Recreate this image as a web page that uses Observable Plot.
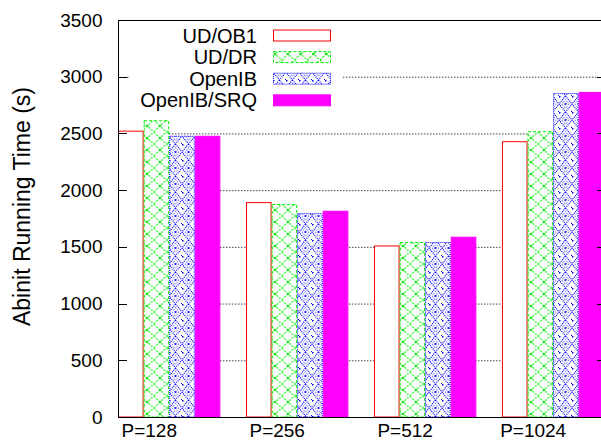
<!DOCTYPE html>
<html>
<head>
<meta charset="utf-8">
<script src="https://cdn.jsdelivr.net/npm/d3@7"></script>
<script src="https://cdn.jsdelivr.net/npm/@observablehq/plot@0.6"></script>
<style>
  html, body { margin: 0; padding: 0; background: #fff; overflow: hidden; }
  svg { font-family: "Liberation Sans", Arial, Helvetica, sans-serif; }
</style>
</head>
<body>
<div id="chart"></div>
<script>
// ---- data ----
const groups = ["P=128", "P=256", "P=512", "P=1024"];
const series = ["UD/OB1", "UD/DR", "OpenIB", "OpenIB/SRQ"];
const udOB1     = [2520, 1890, 1508, 2427];
const udDR      = [2612, 1873, 1538, 2515];
const openIB    = [2475, 1793, 1538, 2852];
const openIBSRQ = [2475, 1814, 1585, 2862];
const yTicks = [0, 500, 1000, 1500, 2000, 2500, 3000, 3500];
const yTitle = "Abinit Running Time (s)";

const values = [udOB1, udDR, openIB, openIBSRQ];
const fills = ["#ffffff", "url(#patGreen)", "url(#patBlue)", "#ff00ff"];
const strokes = ["#ff0000", "#00ee00", "#0000ff", "#ff00ff"];
const dashes = [null, "3,2", "1,1", null];

// one bar per (group, series); each group is 4 bar widths plus a one-bar gap
const bars = [];
groups.forEach((g, gi) => series.forEach((s, si) => {
  bars.push({group: g, series: s, si, x1: gi * 5 + si, x2: gi * 5 + si + 1, value: values[si][gi]});
}));
const labelPos = groups.map((g, gi) => gi * 5 + 1.2);

const font = "Liberation Sans, Arial, Helvetica, sans-serif";

const legendMark = (index, scales, vals, dims) => {
  const g = d3.create("svg:g");
  g.append("rect").attr("x", 130).attr("y", 23).attr("width", 212).attr("height", 90).attr("fill", "#fff");
  series.forEach((s, i) => {
    const cy = 35.5 + i * 21.6;
    g.append("text").attr("x", 257).attr("y", cy).attr("text-anchor", "end")
      .attr("dominant-baseline", "central").attr("font-size", 20).attr("fill", "#000")
      .attr("font-family", font).text(s);
    const r = g.append("rect").attr("x", 273.5).attr("y", cy - 5.5).attr("width", 57).attr("height", 11)
      .attr("fill", fills[i]).attr("stroke", strokes[i]).attr("stroke-width", 1);
    if (dashes[i]) r.attr("stroke-dasharray", dashes[i]);
  });
  return g.node();
};

const titleMark = (index, scales, vals, dims) => {
  const cy = (dims.marginTop + dims.height - dims.marginBottom) / 2 - 12;
  return d3.create("svg:text")
    .attr("transform", `translate(22,${cy}) rotate(-90)`)
    .attr("text-anchor", "middle").attr("dominant-baseline", "central")
    .attr("font-size", 23).attr("font-family", font).attr("fill", "#000")
    .text(yTitle).node();
};

const tickMark = (index, scales, vals, dims) => {
  const g = d3.create("svg:g").attr("stroke", "#000").attr("stroke-width", 1);
  const xl = dims.marginLeft, xr = dims.width - dims.marginRight;
  yTicks.forEach(v => {
    const y = Math.round(scales.y(v)) + 0.5;
    g.append("line").attr("x1", xl).attr("x2", xl + 9).attr("y1", y).attr("y2", y);
    g.append("line").attr("x1", xr - 4).attr("x2", xr).attr("y1", y).attr("y2", y);
  });
  return g.node();
};

const plot = Plot.plot({
  width: 601,
  height: 441,
  marginLeft: 118,
  marginRight: 0,
  marginTop: 20,
  marginBottom: 24,
  style: {fontFamily: font, background: "#fff", color: "#000"},
  x: {domain: [0, 18.87], axis: null},
  y: {domain: [0, 3500], axis: null},
  marks: [
    Plot.ruleY(yTicks.filter(v => v > 0 && v < 3500), {stroke: "#444", strokeWidth: 1, strokeDasharray: "1.5,1.5", x1: 0.35, x2: 18.7}),
    ...series.map((s, si) => Plot.rectY(bars.filter(d => d.si === si), {
      x1: "x1", x2: "x2", y: "value",
      fill: fills[si], stroke: strokes[si], strokeWidth: 1,
      strokeDasharray: dashes[si], insetLeft: 0.5, insetRight: 0.5, clip: true
    })),
    Plot.ruleY([3500], {stroke: "#000", strokeWidth: 1}),
    Plot.ruleY([0], {stroke: "#000", strokeWidth: 1.2}),
    Plot.ruleX([0], {stroke: "#000", strokeWidth: 1}),
    tickMark,
    Plot.axisY(yTicks, {tickSize: 0, tickPadding: 16, fontSize: 19, label: null, tickFormat: d => String(d)}),
    Plot.axisX(labelPos, {tickSize: 0, tickPadding: 6, fontSize: 19, label: null, tickFormat: (d, i) => groups[i]}),
    titleMark,
    legendMark
  ]
});

// patterns
const defs = d3.select(plot).insert("defs", ":first-child");
const pg = defs.append("pattern").attr("id", "patGreen").attr("patternUnits", "userSpaceOnUse")
  .attr("width", 12.8).attr("height", 12).attr("x", 0).attr("y", 0);
pg.append("rect").attr("width", 12.8).attr("height", 12).attr("fill", "#fff");
pg.append("path").attr("d", "M0,0L6.4,6L12.8,0M0,12L6.4,6L12.8,12")
  .attr("stroke", "#00ee00").attr("stroke-width", 1.1).attr("stroke-dasharray", "2,1.5").attr("fill", "none");
pg.append("rect").attr("x", 5.4).attr("y", 5).attr("width", 2).attr("height", 2).attr("fill", "#00dd00");

const pb = defs.append("pattern").attr("id", "patBlue").attr("patternUnits", "userSpaceOnUse")
  .attr("width", 13).attr("height", 16).attr("x", 0).attr("y", 0);
pb.append("rect").attr("width", 13).attr("height", 16).attr("fill", "#fff");
pb.append("path").attr("d", "M6.5,0L13,8L6.5,16L0,8Z")
  .attr("stroke", "#0000ff").attr("stroke-width", 1.2).attr("stroke-dasharray", "1,1").attr("fill", "none");
pb.append("path").attr("d", "M6.5,3.5L10,8L6.5,12.5L3,8Z")
  .attr("stroke", "#5555ff").attr("stroke-width", 1).attr("stroke-dasharray", "1,1").attr("fill", "none");
pb.append("rect").attr("x", 5.5).attr("y", 7).attr("width", 2).attr("height", 2).attr("fill", "#2222ff");
pb.append("rect").attr("x", 0).attr("y", 0).attr("width", 1.5).attr("height", 1.5).attr("fill", "#0000ff");
pb.append("rect").attr("x", 12).attr("y", 15).attr("width", 1).attr("height", 1).attr("fill", "#0000ff");

document.getElementById("chart").appendChild(plot);
</script>
</body>
</html>
